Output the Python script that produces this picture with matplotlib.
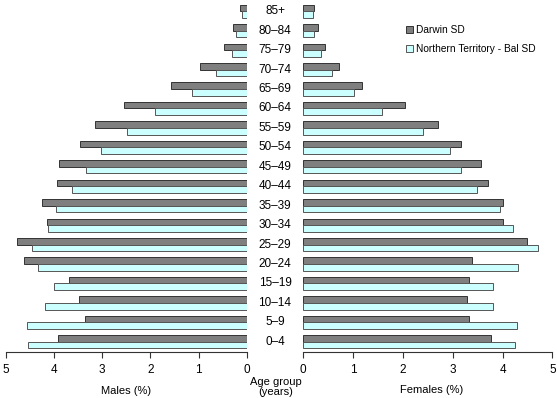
import matplotlib
matplotlib.use("Agg")
import matplotlib.pyplot as plt
import matplotlib.transforms as mtransforms
import numpy as np

plt.rcParams["font.family"] = ["Liberation Sans", "DejaVu Sans"]
plt.rcParams["font.size"] = 7.5

# age groups, youngest first (drawn bottom to top)
age_groups = ["0\u20134", "5\u20139", "10\u201314", "15\u201319", "20\u201324", "25\u201329",
              "30\u201334", "35\u201339", "40\u201344", "45\u201349", "50\u201354", "55\u201359",
              "60\u201364", "65\u201369", "70\u201374", "75\u201379", "80\u201384", "85+"]

males_darwin = [3.92, 3.36, 3.49, 3.69, 4.62, 4.78, 4.15, 4.26, 3.94, 3.90,
                3.46, 3.15, 2.54, 1.57, 0.96, 0.47, 0.28, 0.14]
males_nt_bal = [4.55, 4.57, 4.19, 4.00, 4.34, 4.46, 4.12, 3.97, 3.63, 3.33,
                3.02, 2.48, 1.90, 1.14, 0.63, 0.30, 0.22, 0.09]
females_darwin = [3.77, 3.33, 3.28, 3.32, 3.38, 4.49, 4.02, 4.02, 3.70, 3.56,
                  3.17, 2.70, 2.04, 1.17, 0.71, 0.43, 0.29, 0.21]
females_nt_bal = [4.26, 4.30, 3.80, 3.80, 4.32, 4.71, 4.21, 3.94, 3.49, 3.17,
                  2.94, 2.40, 1.59, 1.01, 0.58, 0.35, 0.21, 0.20]

series_names = ["Darwin SD", "Northern Territory - Bal SD"]
dark = "#7f7f7f"
light = "#ccffff"
edge = "#333333"

fig = plt.figure(figsize=(5.57, 3.98), dpi=100)
ax_l = fig.add_axes([6 / 557, 1 - 351.5 / 398, 240.7 / 557, 350 / 398])
ax_r = fig.add_axes([303.3 / 557, 1 - 351.5 / 398, 249 / 557, 350 / 398])

y = np.arange(len(age_groups))
h = 0.34

for ax, d, n in [(ax_l, males_darwin, males_nt_bal), (ax_r, females_darwin, females_nt_bal)]:
    ax.barh(y + h / 2, d, height=h, color=dark, edgecolor=edge, linewidth=0.7,
            label=series_names[0])
    ax.barh(y - h / 2, n, height=h, color=light, edgecolor="#555555", linewidth=0.7,
            label=series_names[1])
    ax.set_ylim(-0.5, len(age_groups) - 0.5)
    ax.set_xlim(0, 5)
    ax.set_xticks(range(6))
    ax.set_yticks([])
    for s in ["top", "left", "right"]:
        ax.spines[s].set_visible(False)
    ax.spines["bottom"].set_color("#333333")
    ax.spines["bottom"].set_linewidth(0.8)
    ax.tick_params(axis="x", direction="out", length=4, width=0.8, color="#333333",
                   pad=5, labelsize=8.5)

ax_l.invert_xaxis()

# age group labels in the gap between the two panels
trans = mtransforms.blended_transform_factory(fig.transFigure, ax_l.transData)
for yi, lab in zip(y, age_groups):
    fig.text(275 / 557, yi, lab, transform=trans, ha="center", va="center", fontsize=8.5)

fig.text(126 / 557, 1 - 391 / 398, "Males (%)", ha="center", va="center", fontsize=8)
fig.text(432 / 557, 1 - 390 / 398, "Females (%)", ha="center", va="center", fontsize=8)
fig.text(276 / 557, 1 - 387 / 398, "Age group\n(years)", ha="center", va="center",
         fontsize=8, linespacing=1.1)

handles, labels = ax_r.get_legend_handles_labels()
fig.legend(handles, labels, loc="upper left", bbox_to_anchor=(406 / 557, 1 - 25 / 398),
           frameon=False, fontsize=7.3, handlelength=0.7, handleheight=0.7,
           handletextpad=0.25, labelspacing=0.85, borderpad=0, borderaxespad=0)

fig.savefig("out.png", dpi=100)
